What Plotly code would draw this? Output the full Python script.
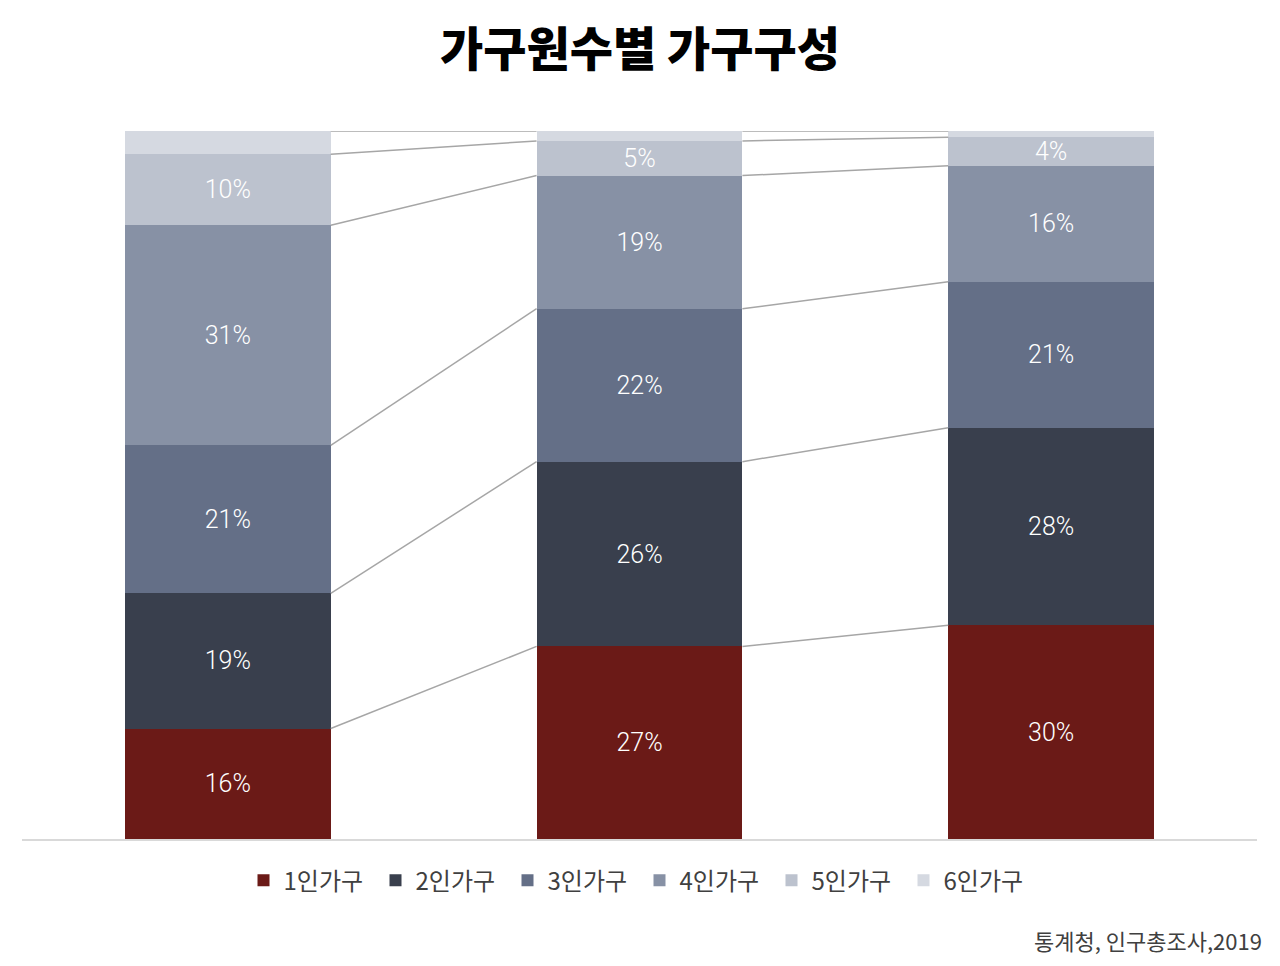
import plotly.graph_objects as go

years = ["2000", "2015", "2019"]
groups = ["1인가구", "2인가구", "3인가구", "4인가구", "5인가구", "6인가구"]
colors = ["#6B1A17", "#393F4D", "#646F87", "#8791A5", "#BCC2CE", "#D5D9E1"]

share_2000 = [15.6, 19.1, 20.9, 31.1, 10.0, 3.3]
share_2015 = [27.2, 26.1, 21.6, 18.8, 4.9, 1.4]
share_2019 = [30.2, 27.9, 20.6, 16.4, 4.0, 0.9]

shares = [share_2000, share_2015, share_2019]
xs = list(range(len(years)))
bar_w = 0.5

fig = go.Figure()

# stacked bars, one trace per household size
for i, g in enumerate(groups):
    vals = [s[i] for s in shares]
    fig.add_trace(go.Bar(
        x=xs, y=vals, name=g, width=bar_w,
        marker=dict(color=colors[i], line=dict(width=0)),
        texttemplate="" if g == "6인가구" else "%{y:.0f}%",
        textposition="inside", insidetextanchor="middle", textangle=0,
        textfont=dict(family="Roboto", size=25, color="white", weight=300),
        hoverinfo="skip",
    ))

# series lines between bars
for k in range(1, len(groups) + 1):
    cum = [sum(s[:k]) for s in shares]
    for j in range(len(xs) - 1):
        fig.add_trace(go.Scatter(
            x=[xs[j] + bar_w / 2, xs[j + 1] - bar_w / 2],
            y=[cum[j], cum[j + 1]],
            mode="lines", line=dict(color="#A6A6A6", width=1.5),
            showlegend=False, hoverinfo="skip",
        ))

fig.update_layout(
    width=1280, height=966,
    barmode="stack",
    paper_bgcolor="white", plot_bgcolor="white",
    margin=dict(l=14, r=31, t=123, b=135),
    font=dict(family="Noto Sans CJK KR", color="#404040"),
    title=dict(text="가구원수별 가구구성", x=0.4937, xanchor="center",
               y=0.957, yanchor="middle",
               font=dict(family="Noto Sans CJK KR", size=47, color="black", weight=900)),
    legend=dict(orientation="h", x=0.5, xanchor="center", y=-0.059, yanchor="middle",
                traceorder="normal", font=dict(size=24, color="#404040"),
                itemwidth=30, entrywidth=87, entrywidthmode="pixels"),
    uniformtext=dict(mode="show", minsize=25),
    showlegend=True,
)
fig.update_xaxes(range=[-0.5, 2.5], showticklabels=False, showgrid=False, zeroline=False,
                 showline=True, linecolor="#D9D9D9", linewidth=2, ticks="", fixedrange=True)
fig.update_yaxes(range=[0, 100], showticklabels=False, showgrid=False, zeroline=False,
                 showline=False, fixedrange=True)

fig.add_annotation(text="통계청, 인구총조사,2019", xref="paper", yref="paper",
                   x=1.006, y=-0.143, xanchor="right", yanchor="middle", showarrow=False,
                   font=dict(family="Noto Sans CJK KR", size=22, color="#404040"))

fig.write_html("out.html")
